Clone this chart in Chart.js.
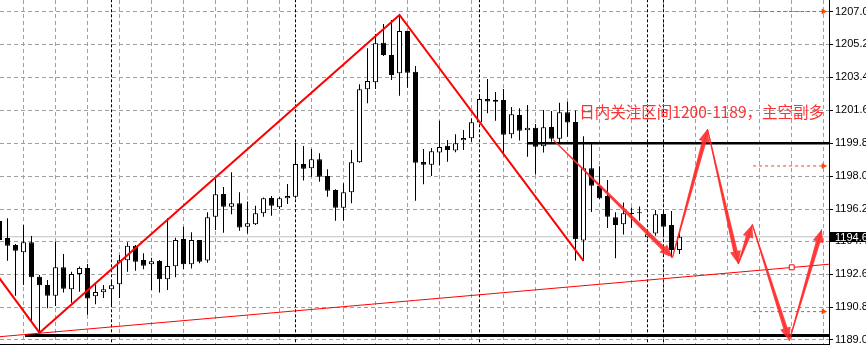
<!DOCTYPE html>
<html><head><meta charset="utf-8">
<script src="https://cdn.jsdelivr.net/npm/chart.js@4.4.1/dist/chart.umd.min.js"></script>
<style>html,body{margin:0;padding:0;background:#fff;overflow:hidden}#wrap{width:866px;height:346px}</style>
</head><body><div id="wrap"><canvas id="c" width="866" height="346"></canvas></div>
<script>
// ---- data ----
const open = [
1195.55,1194.62,1194.24,1193.84,1194.39,1192.51,1192.06,1191.47,1193.02,1191.82,
1192.66,1192.99,1191.44,1191.66,1191.82,1192.09,1193.41,1194.20,1193.42,1193.19,
1193.37,1192.37,1193.08,1194.57,1193.19,1194.52,1193.40,1195.79,1197.03,1196.33,
1196.52,1195.24,1195.37,1195.97,1196.81,1196.30,1196.79,1196.88,1198.67,1198.43,
1198.93,1198.01,1197.25,1196.28,1197.12,1198.76,1202.75,1203.13,1205.30,1204.62,
1203.62,1205.94,1203.71,1198.78,1198.63,1199.29,1199.67,1199.40,1199.96,1200.07,
1200.94,1202.22,1202.18,1202.17,1200.29,1201.35,1200.51,1200.65,1199.64,1200.69,
1200.05,1201.49,1200.96,1194.48,1198.43,1197.46,1196.92,1195.76,1195.37,1195.99,
1195.97,1194.66,1194.87,1195.94,1195.33,1193.97];
const high = [
1195.72,1195.70,1194.30,1195.33,1194.73,1192.60,1192.33,1194.42,1193.75,1192.78,
1193.06,1193.20,1192.11,1192.06,1192.24,1193.70,1194.39,1194.24,1193.79,1193.55,
1193.42,1195.70,1194.63,1195.24,1194.94,1194.52,1196.03,1197.85,1197.41,1198.21,
1197.12,1196.62,1196.38,1196.84,1196.92,1196.87,1197.58,1199.83,1199.65,1199.49,
1199.25,1198.38,1197.29,1197.61,1199.43,1203.02,1204.99,1205.77,1206.32,1206.54,
1206.81,1205.94,1204.02,1199.49,1199.54,1201.03,1199.98,1200.29,1200.53,1201.17,
1202.49,1203.31,1202.60,1202.76,1201.78,1201.71,1201.89,1200.85,1201.62,1201.56,
1202.02,1202.07,1201.59,1200.18,1199.82,1198.54,1197.79,1196.03,1196.56,1196.29,
1196.35,1195.01,1196.15,1196.18,1196.10,1195.01];
const low = [
1194.24,1193.38,1191.47,1192.06,1190.03,1189.43,1190.78,1190.91,1191.64,1191.09,
1191.69,1190.43,1191.00,1191.35,1190.96,1191.35,1192.78,1192.84,1192.91,1191.78,
1191.64,1191.78,1192.48,1192.93,1192.96,1193.24,1193.27,1195.06,1194.91,1195.92,
1195.02,1194.87,1195.33,1195.79,1195.84,1196.21,1196.48,1196.78,1197.76,1197.97,
1197.70,1196.88,1195.57,1195.57,1196.52,1198.74,1201.99,1202.77,1204.57,1203.26,
1202.40,1202.84,1196.66,1197.56,1198.01,1198.58,1198.79,1199.31,1199.43,1199.89,
1200.89,1201.44,1201.03,1199.13,1200.07,1199.95,1199.07,1198.09,1199.29,1199.89,
1199.82,1200.16,1193.40,1193.37,1196.05,1196.76,1195.17,1193.52,1194.82,1195.18,
1195.57,1194.60,1194.75,1194.73,1193.56,1193.75];
const close = [
1194.52,1194.20,1193.93,1194.39,1192.48,1192.04,1191.47,1193.02,1191.85,1192.66,
1192.99,1191.31,1191.67,1191.82,1192.04,1193.41,1194.20,1193.33,1193.11,1193.35,
1192.37,1193.09,1194.52,1193.19,1194.52,1193.33,1195.76,1197.01,1196.33,1196.52,
1195.20,1195.43,1195.97,1196.79,1196.39,1196.79,1196.92,1198.67,1198.41,1198.93,
1197.97,1197.21,1196.28,1197.12,1198.76,1202.75,1203.20,1205.26,1204.62,1203.53,
1205.94,1203.66,1198.74,1198.63,1199.36,1199.60,1199.43,1199.80,1200.09,1200.95,
1202.22,1202.08,1202.07,1200.27,1201.38,1200.49,1200.65,1199.61,1200.67,1200.05,
1201.49,1200.94,1194.56,1198.43,1197.48,1196.79,1195.79,1195.33,1195.97,1195.93,
1196.03,1194.83,1195.92,1195.24,1193.97,1194.69];
const candleIndex = Array.from({length: open.length}, (_, i) => i - 1);

const yTickValues = [1207.00,1205.20,1203.40,1201.60,1199.80,1198.00,1196.20,1194.45,1192.65,1190.85,1189.05];
const xGridIndex = [2,6,10,14,18,22,26,30,34,38,42,46,50,54,58,62,66,70,74,78,82,86,90,94,98,102];
const separatorIndex = [13,36,59,80,82];

const zigzagX = [-1.5, 4, 49, 72];
const zigzagY = [1192.72, 1189.45, 1206.81, 1193.37];
const trendX = [-0.9375, 102.6875];
const trendY = [1189.23, 1193.19];
const markerX = [98.03];
const markerY = [1193.02];
const resistanceLevel = 1199.80, resistanceStartX = 65;
const floorLevel = 1189.29, floorStartX = 2.2;
const forecastX = [68.23, 83.13, 87.5, 91.35, 93.1, 97.73, 101.78];
const forecastY = [1199.98, 1193.56, 1200.58, 1193.20, 1195.36, 1189.02, 1195.10];
const targetLevels = [1207.00, 1198.56, 1190.60];
const targetStartX = 93.2, targetEndX = 102.4;
const lastPrice = 1194.69;
const noteText = '日内关注区间1200-1189，主空副多';
const noteX = 71.48, noteY = 1201.48;
const xMin = -0.9375, xMax = 102.6875, yMin = 1188.83, yMax = 1207.63;

// ---- datasets ----
const datasets = [];
datasets.push({type:'line', data:[{x:xMin,y:lastPrice},{x:xMax,y:lastPrice}], borderColor:'#c0c0c0', borderWidth:1, pointRadius:0, order:20});
separatorIndex.forEach(k => datasets.push({type:'line', data:[{x:k,y:yMin-1},{x:k,y:yMax+1}], borderColor:'#000', borderWidth:1, borderDash:[3,2], pointRadius:0, order:19}));
datasets.push({type:'bar', data:candleIndex.map((k,i)=>({x:k,y:[low[i],high[i]]})), backgroundColor:'#000', borderWidth:0, barThickness:1, grouped:false, inflateAmount:0, order:8});
datasets.push({type:'bar', data:candleIndex.map((k,i)=>({x:k,y:[open[i],close[i]]})), backgroundColor:candleIndex.map((k,i)=>close[i]>=open[i]?'#fff':'#000'), borderColor:'#000', borderWidth:1, borderSkipped:false, barThickness:5, minBarLength:1, grouped:false, inflateAmount:0, order:7});
datasets.push({type:'line', data:[{x:resistanceStartX,y:resistanceLevel},{x:xMax+1,y:resistanceLevel}], borderColor:'#000', borderWidth:2.5, pointRadius:0, order:5});
datasets.push({type:'line', data:[{x:floorStartX,y:floorLevel},{x:xMax+1,y:floorLevel}], borderColor:'#000', borderWidth:3, pointRadius:0, order:5});
datasets.push({type:'line', data:trendX.map((x,i)=>({x,y:trendY[i]})), borderColor:'#ff0000', borderWidth:1, pointRadius:0, order:4});
datasets.push({type:'line', data:zigzagX.map((x,i)=>({x,y:zigzagY[i]})), borderColor:'#ff0000', borderWidth:2, pointRadius:0, order:3});
datasets.push({type:'line', data:markerX.map((x,i)=>({x,y:markerY[i]})), showLine:false, pointStyle:'rect', pointRadius:3.5, pointBackgroundColor:'#fff', pointBorderColor:'#ff0000', pointBorderWidth:1, order:2});
targetLevels.forEach(v => datasets.push({type:'line', data:[{x:targetStartX,y:v},{x:targetEndX,y:v}], borderColor:'#ff4500', borderWidth:1, borderDash:[3,3], pointRadius:0, order:1,
  arrow:{color:'#ff4500', headLength:5, headWidth:6, taper:false}}));
datasets.push({type:'line', data:forecastX.map((x,i)=>({x,y:forecastY[i]})), borderColor:'rgba(255,40,40,0.85)', borderWidth:1, pointRadius:0, order:1,
  arrow:{color:'rgba(255,40,40,0.88)', headLength:13, headWidth:11, taper:true, tailWidth:1, neckWidth:4.5}});

// ---- plugins ----
const annotPlugin = {
  id:'annot',
  afterDatasetsDraw(chart){
    const ctx = chart.ctx, area = chart.chartArea;
    chart.data.datasets.forEach((ds, di) => {
      if (!ds.arrow) return;
      const pts = chart.getDatasetMeta(di).data;
      const a = ds.arrow;
      ctx.save();
      ctx.beginPath(); ctx.rect(area.left, area.top, area.right-area.left, area.bottom-area.top); ctx.clip();
      ctx.fillStyle = a.color;
      for (let i = 1; i < pts.length; i++) {
        const p = pts[i-1], q = pts[i];
        const dx = q.x-p.x, dy = q.y-p.y, len = Math.hypot(dx,dy);
        const ux = dx/len, uy = dy/len, nx = -uy, ny = ux;
        const hw = a.headWidth/2, bx = q.x-ux*a.headLength, by = q.y-uy*a.headLength;
        ctx.beginPath();
        if (a.taper) {
          const w0 = a.tailWidth/2, w1 = a.neckWidth/2;
          ctx.moveTo(p.x+nx*w0, p.y+ny*w0);
          ctx.lineTo(bx+nx*w1, by+ny*w1);
          ctx.lineTo(bx+nx*hw, by+ny*hw);
          ctx.lineTo(q.x, q.y);
          ctx.lineTo(bx-nx*hw, by-ny*hw);
          ctx.lineTo(bx-nx*w1, by-ny*w1);
          ctx.lineTo(p.x-nx*w0, p.y-ny*w0);
        } else {
          ctx.moveTo(q.x, q.y);
          ctx.lineTo(bx+nx*hw, by+ny*hw);
          ctx.lineTo(bx-nx*hw, by-ny*hw);
        }
        ctx.closePath(); ctx.fill();
      }
      ctx.restore();
    });
    const xs = chart.scales.x, ys = chart.scales.y;
    ctx.save();
    ctx.font = '15.5px "Noto Sans CJK SC"';
    ctx.fillStyle = '#ff3030';
    ctx.textBaseline = 'middle';
    ctx.fillText(noteText, xs.getPixelForValue(noteX), ys.getPixelForValue(noteY));
    ctx.restore();
  },
  afterDraw(chart){
    const ctx = chart.ctx, ys = chart.scales.y;
    const py = ys.getPixelForValue(lastPrice);
    ctx.save();
    ctx.fillStyle = '#000';
    ctx.fillRect(ys.left + 1, Math.round(py) - 5, chart.width - ys.left, 10);
    ctx.fillStyle = '#fff';
    ctx.font = '11px "Liberation Sans"';
    ctx.textBaseline = 'middle';
    ctx.fillText(lastPrice.toFixed(2), ys.left + 6, Math.round(py) + 0.5);
    ctx.restore();
  }
};

new Chart(document.getElementById('c'), {
  type:'bar',
  data:{datasets},
  options:{
    responsive:false, animation:false, devicePixelRatio:1,
    layout:{padding:0, autoPadding:false},
    plugins:{legend:{display:false}, tooltip:{enabled:false}, title:{display:false}},
    elements:{line:{tension:0, fill:false}},
    scales:{
      x:{type:'linear', min:xMin, max:xMax, offset:false, bounds:'data',
        grid:{offset:false, color:'#a0a0a0', drawTicks:false},
        border:{display:true, color:'#000', width:1, dash:[4,3]},
        ticks:{display:false},
        afterBuildTicks:s=>{ s.ticks = xGridIndex.map(v=>({value:v})); },
        afterFit:s=>{ s.height = 2; s.paddingLeft = 0; s.paddingRight = 0; }
      },
      y:{type:'linear', position:'right', min:yMin, max:yMax, beginAtZero:false, bounds:'data',
        grid:{color:'#a0a0a0', drawTicks:true, tickLength:4, tickColor:'#000', tickBorderDash:[]},
        border:{display:true, color:'#000', width:1, dash:[4,3]},
        ticks:{autoSkip:false, padding:2, color:'#000', font:{family:'Liberation Sans', size:11},
          callback:v=>Number(v).toFixed(2)},
        afterBuildTicks:s=>{ s.ticks = yTickValues.map(v=>({value:v})); },
        afterFit:s=>{ s.width = 37; s.paddingTop = 0; s.paddingBottom = 0; }
      }
    }
  },
  plugins:[annotPlugin]
});
</script>
</body></html>
